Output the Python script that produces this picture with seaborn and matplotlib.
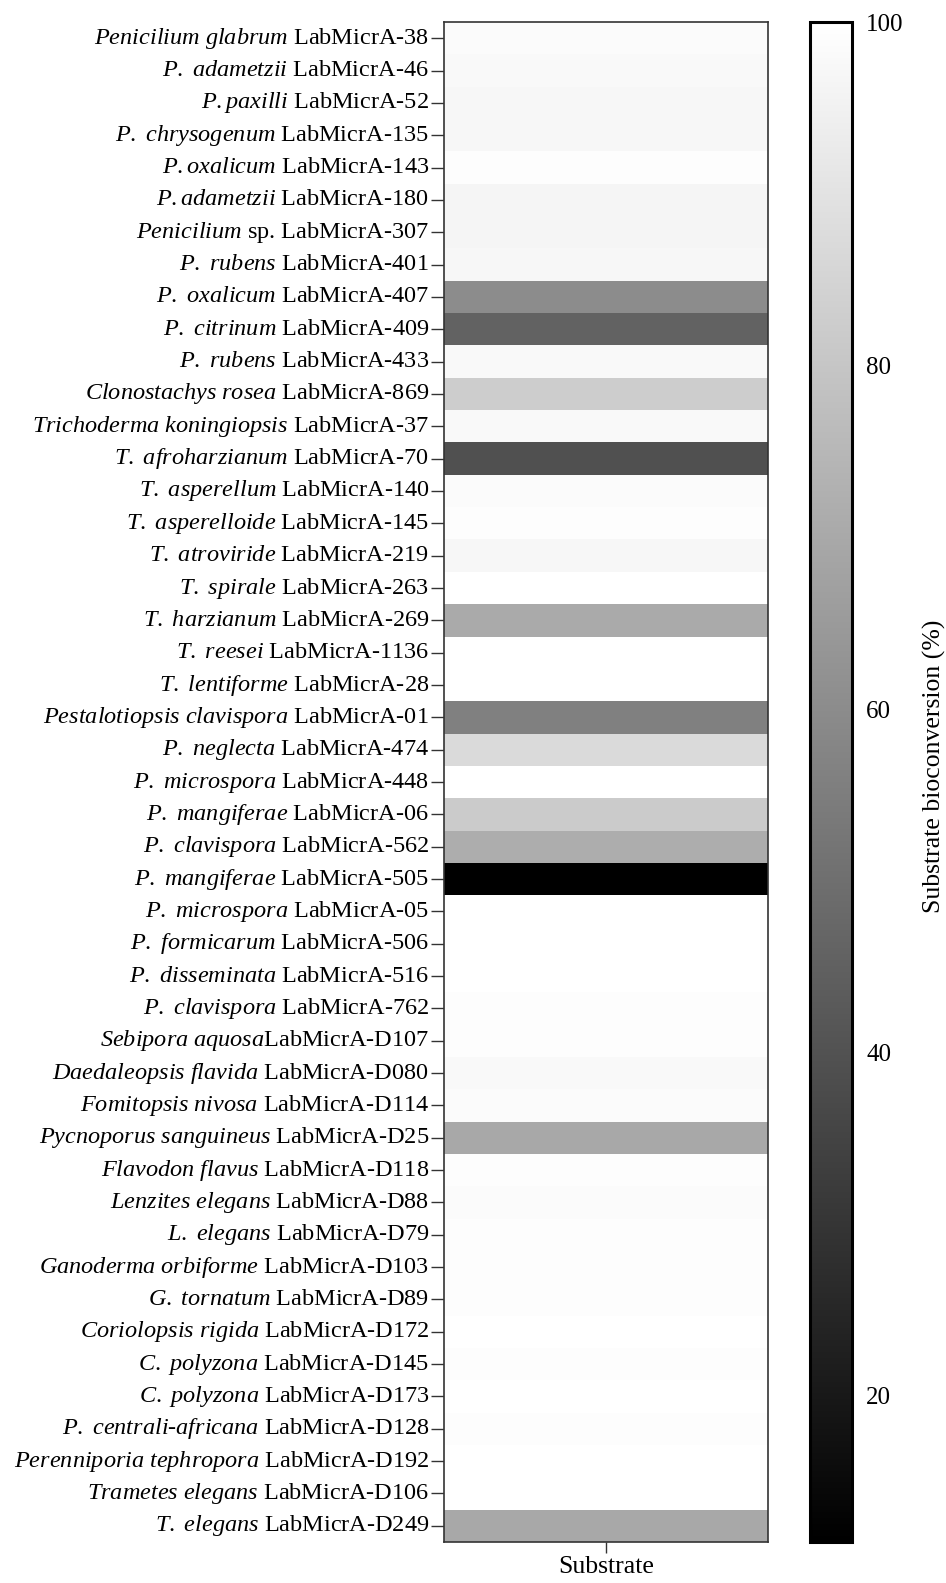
import matplotlib
matplotlib.use("Agg")
import matplotlib.pyplot as plt
import numpy as np
import pandas as pd
import seaborn as sns

# Strain names: italic species part and upright strain code
species = [
    "Penicilium glabrum", "P. adametzii", "P.paxilli", "P. chrysogenum",
    "P.oxalicum", "P.adametzii", "Penicilium", "P. rubens", "P. oxalicum",
    "P. citrinum", "P. rubens", "Clonostachys rosea", "Trichoderma koningiopsis",
    "T. afroharzianum", "T. asperellum", "T. asperelloide", "T. atroviride",
    "T. spirale", "T. harzianum", "T. reesei", "T. lentiforme",
    "Pestalotiopsis clavispora", "P. neglecta", "P. microspora", "P. mangiferae",
    "P. clavispora", "P. mangiferae", "P. microspora", "P. formicarum",
    "P. disseminata", "P. clavispora", "Sebipora aquosa", "Daedaleopsis flavida",
    "Fomitopsis nivosa", "Pycnoporus sanguineus", "Flavodon flavus",
    "Lenzites elegans", "L. elegans", "Ganoderma orbiforme", "G. tornatum",
    "Coriolopsis rigida", "C. polyzona", "C. polyzona", "P. centrali-africana",
    "Perenniporia tephropora", "Trametes elegans", "T. elegans",
]
strain = [
    " LabMicrA-38", " LabMicrA-46", " LabMicrA-52", " LabMicrA-135",
    " LabMicrA-143", " LabMicrA-180", " sp. LabMicrA-307", " LabMicrA-401",
    " LabMicrA-407", " LabMicrA-409", " LabMicrA-433", " LabMicrA-869",
    " LabMicrA-37", " LabMicrA-70", " LabMicrA-140", " LabMicrA-145",
    " LabMicrA-219", " LabMicrA-263", " LabMicrA-269", " LabMicrA-1136",
    " LabMicrA-28", " LabMicrA-01", " LabMicrA-474", " LabMicrA-448",
    " LabMicrA-06", " LabMicrA-562", " LabMicrA-505", " LabMicrA-05",
    " LabMicrA-506", " LabMicrA-516", " LabMicrA-762", "LabMicrA-D107",
    " LabMicrA-D080", " LabMicrA-D114", " LabMicrA-D25", " LabMicrA-D118",
    " LabMicrA-D88", " LabMicrA-D79", " LabMicrA-D103", " LabMicrA-D89",
    " LabMicrA-D172", " LabMicrA-D145", " LabMicrA-D173", " LabMicrA-D128",
    " LabMicrA-D192", " LabMicrA-D106", " LabMicrA-D249",
]
# Substrate bioconversion (%)
conversion = [
    98.3, 97.6, 96.9, 97.2, 99.0, 96.2, 96.2, 97.2, 60.0, 45.5,
    97.6, 82.6, 97.9, 39.3, 98.3, 99.3, 96.9, 99.7, 70.5, 99.7,
    99.7, 55.9, 87.2, 99.7, 82.0, 71.5, 11.5, 99.7, 99.7, 99.7,
    99.3, 99.3, 97.6, 98.6, 69.8, 99.0, 98.3, 99.3, 99.0, 99.3,
    99.7, 99.3, 99.7, 99.3, 99.7, 99.7, 69.8,
]
column = ["Substrate"]
cbar_ticks = [20, 40, 60, 80, 100]


def italic(part):
    # mathtext italic; hyphens kept outside math so they stay short dashes
    pieces = [r"$\mathit{" + p.replace(" ", r"\ ") + "}$" for p in part.split("-")]
    return "-".join(pieces)


labels = [italic(s) + t for s, t in zip(species, strain)]
df = pd.DataFrame({column[0]: conversion}, index=labels)

sns.set_theme(style="white")
plt.rcParams["font.family"] = ["Liberation Serif", "DejaVu Serif"]
plt.rcParams["mathtext.fontset"] = "custom"
plt.rcParams["mathtext.it"] = "Liberation Serif:italic"
plt.rcParams["mathtext.rm"] = "Liberation Serif"
plt.rcParams["text.color"] = "black"
plt.rcParams["xtick.color"] = "black"
plt.rcParams["ytick.color"] = "black"
plt.rcParams["axes.labelcolor"] = "black"

fig = plt.figure(figsize=(9.46, 15.83), dpi=100)
ax = fig.add_axes([0.469, 0.026, 0.343, 0.960])
cax = fig.add_axes([0.856, 0.026, 0.045, 0.960])

sns.heatmap(df, ax=ax, cmap="gray", vmin=min(conversion), vmax=100,
            cbar_ax=cax, cbar_kws={"ticks": cbar_ticks})

for sp in ax.spines.values():
    sp.set_visible(True)
    sp.set_color("#333333")
    sp.set_linewidth(1.2)

ax.tick_params(axis="y", left=True, length=9.5, width=1, color="#333333",
               labelcolor="black", labelsize=17.5, pad=1, rotation=0)
ax.tick_params(axis="x", bottom=True, length=8, width=1, color="#333333",
               labelcolor="black", labelsize=18.5, pad=2)
ax.set_ylabel("")
ax.set_xlabel("")

cbar = ax.collections[0].colorbar
cbar.outline.set_edgecolor("black")
cbar.outline.set_linewidth(2.2)
cbar.ax.tick_params(which="both", direction="in", left=True, right=True,
                    length=6, width=2, color="black", labelcolor="black",
                    labelsize=18, pad=10)
cbar.set_label("Substrate bioconversion (%)", fontsize=18.5, labelpad=14,
               color="black")
cbar.ax.yaxis.label.set_y(0.51)

fig.savefig("out.png", dpi=100)
